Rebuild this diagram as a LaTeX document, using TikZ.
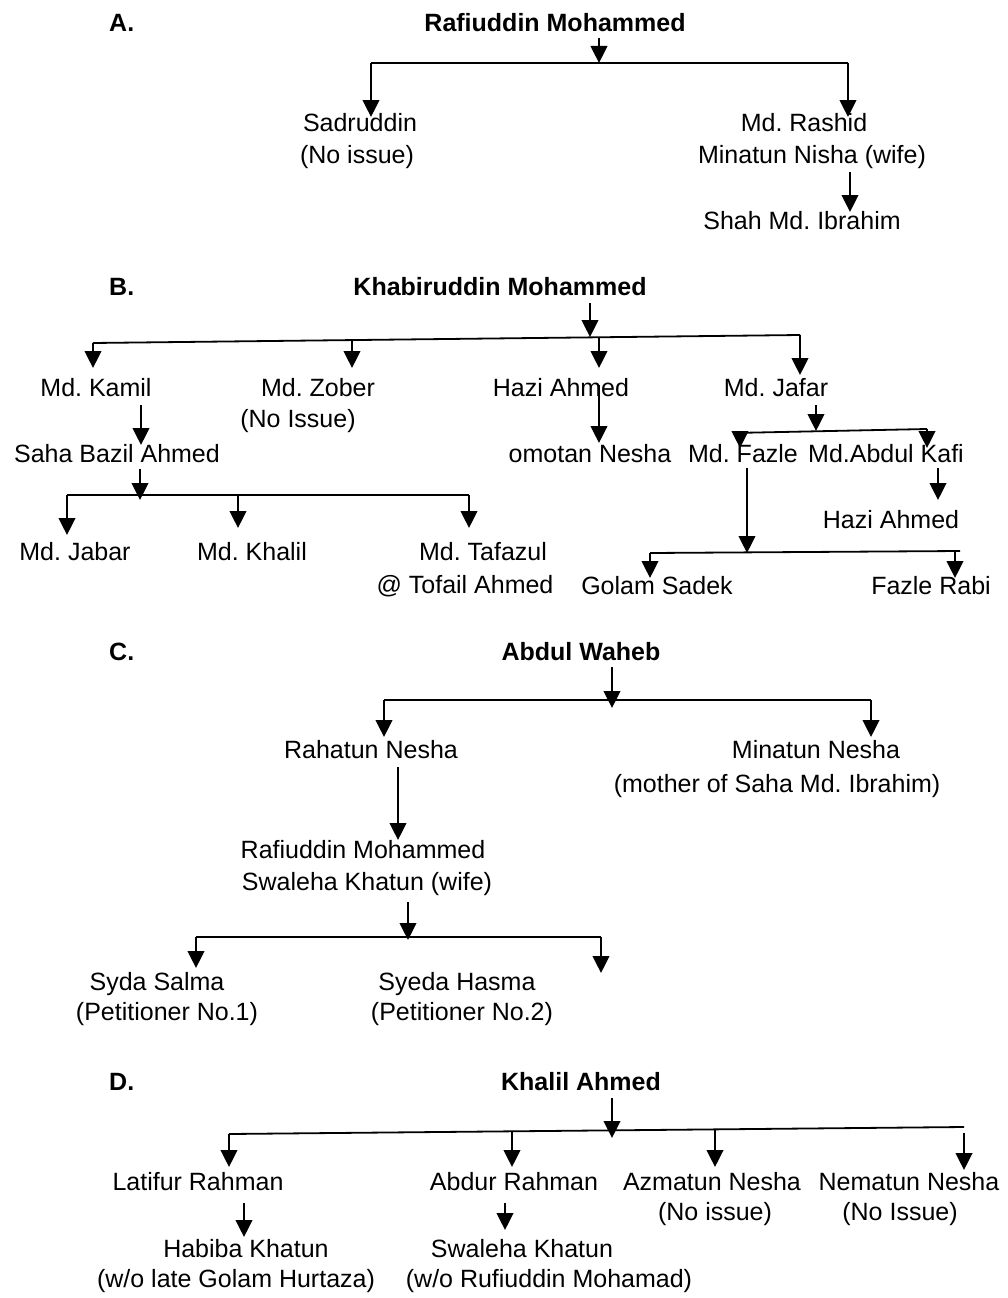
\documentclass[tikz,border=0pt]{standalone}
\usepackage{fontspec}
\setmainfont{Liberation Sans}
\usetikzlibrary{arrows.meta}
\tikzset{
  txt/.style={font=\frenchspacing\fontsize{25}{30}\selectfont, inner sep=0pt, anchor=base},
  hd/.style={font=\frenchspacing\fontsize{25}{30}\selectfont\bfseries, inner sep=0pt, anchor=base},
  arr/.style={line width=2.6pt, -{Triangle[width=16.5pt,length=17pt]}},
  brk/.style={line width=1.8pt}
}
\begin{document}
\begin{tikzpicture}[x=1pt,y=-1pt]
\useasboundingbox[fill=white] (0,0) rectangle (1007,1298);
% ---------------- A ----------------
\node[hd,anchor=base west] (lA) at (109,32) {A.};
\node[hd] (tA) at (555,32) {Rafiuddin Mohammed};
\coordinate (a0) at (599,38); \coordinate (a1) at (599,63);
\coordinate (aL) at (371,63); \coordinate (aR) at (848,63);
\coordinate (aLt) at (371,117); \coordinate (aRt) at (848,117);
\draw[brk] (aL) -- (aR);
\draw[arr] (a0) -- (a1);
\draw[arr] (aL) -- (aLt);
\draw[arr] (aR) -- (aRt);
\node[txt] (sad) at (360,131) {Sadruddin};
\node[txt] (sad2) at (357,163) {(No issue)};
\node[txt] (ras) at (804,131) {Md. Rashid};
\node[txt] (ras2) at (812,163) {Minatun Nisha (wife)};
\coordinate (a2) at (850,172); \coordinate (a3) at (850,212);
\draw[arr] (a2) -- (a3);
\node[txt] (shah) at (802,229) {Shah Md. Ibrahim};
% ---------------- B ----------------
\node[hd,anchor=base west] (lB) at (109,295) {B.};
\node[hd] (tB) at (500,295) {Khabiruddin Mohammed};
\coordinate (b0) at (590,303); \coordinate (b1) at (590,337);
\coordinate (bL) at (93,343); \coordinate (bR) at (800,335);
\draw[brk] (bL) -- (bR);
\draw[arr] (b0) -- (b1);
\coordinate (bz) at (352,340.1); \coordinate (bh) at (599,337.3);
\coordinate (bLt) at (93,368); \coordinate (bzt) at (352,368);
\coordinate (bht) at (599,368); \coordinate (bRt) at (800,375);
\draw[arr] (bL) -- (bLt);
\draw[arr] (bz) -- (bzt);
\draw[arr] (bh) -- (bht);
\draw[arr] (bR) -- (bRt);
\node[txt] (kamil) at (96,396) {Md. Kamil};
\node[txt] (zober) at (318,396) {Md. Zober};
\node[txt] (zober2) at (298,427) {(No Issue)};
\node[txt] (hazi) at (561,396) {Hazi Ahmed};
\node[txt] (jafar) at (776,396) {Md. Jafar};
% Kamil -> Saha Bazil
\coordinate (b2) at (141,405); \coordinate (b3) at (141,445);
\draw[arr] (b2) -- (b3);
\node[txt] (saha) at (117,462) {Saha Bazil Ahmed};
% Hazi -> omotan
\coordinate (b4) at (599,385); \coordinate (b5) at (599,443);
\draw[arr] (b4) -- (b5);
\node[txt] (omotan) at (590,462) {omotan Nesha};
% Jafar
\coordinate (b6) at (816,405); \coordinate (b7) at (816,431);
\coordinate (jL) at (733,433); \coordinate (jR) at (927,429);
\coordinate (jLa) at (740,432.9); \coordinate (jLt) at (740,448); \coordinate (jRt) at (927,448);
\draw[brk] (jL) -- (jR);
\draw[arr] (b6) -- (b7);
\draw[arr] (jLa) -- (jLt);
\draw[arr] (jR) -- (jRt);
\node[txt] (fazle) at (743,462) {Md. Fazle};
\node[txt] (kafi) at (886,462) {Md.Abdul Kafi};
% Fazle -> children
\coordinate (b8) at (747,468); \coordinate (b9) at (747,553);
\coordinate (fL) at (650,553); \coordinate (fR) at (960,551);
\coordinate (fRa) at (955,551); \coordinate (fLt) at (650,578); \coordinate (fRt) at (955,578);
\draw[brk] (fL) -- (fR);
\draw[arr] (b8) -- (b9);
\draw[arr] (fL) -- (fLt);
\draw[arr] (fRa) -- (fRt);
\node[txt] (golam) at (657,594) {Golam Sadek};
\node[txt] (rabi) at (931,594) {Fazle Rabi};
% Kafi -> Hazi Ahmed
\coordinate (b10) at (938,468); \coordinate (b11) at (938,500);
\draw[arr] (b10) -- (b11);
\node[txt] (hazi2) at (891,528) {Hazi Ahmed};
% Saha Bazil -> children
\coordinate (b12) at (140,469); \coordinate (b13) at (140,500);
\coordinate (sL) at (67,495); \coordinate (sR) at (469,495); \coordinate (sM) at (238,495);
\coordinate (sLt) at (67,535); \coordinate (sMt) at (238,528); \coordinate (sRt) at (469,528);
\draw[brk] (sL) -- (sR);
\draw[arr] (b12) -- (b13);
\draw[arr] (sL) -- (sLt);
\draw[arr] (sM) -- (sMt);
\draw[arr] (sR) -- (sRt);
\node[txt] (jabar) at (75,560) {Md. Jabar};
\node[txt] (khalil) at (252,560) {Md. Khalil};
\node[txt] (tafazul) at (483,560) {Md. Tafazul};
\node[txt] (tofail) at (465,593) {@ Tofail Ahmed};
% ---------------- C ----------------
\node[hd,anchor=base west] (lC) at (109,660) {C.};
\node[hd] (tC) at (581,660) {Abdul Waheb};
\coordinate (c0) at (612,667); \coordinate (c1) at (612,708);
\coordinate (cL) at (384,700); \coordinate (cR) at (871,700);
\coordinate (cLt) at (384,737); \coordinate (cRt) at (871,737);
\draw[brk] (cL) -- (cR);
\draw[arr] (c0) -- (c1);
\draw[arr] (cL) -- (cLt);
\draw[arr] (cR) -- (cRt);
\node[txt] (rahatun) at (371,758) {Rahatun Nesha};
\node[txt] (minatun) at (816,758) {Minatun Nesha};
\node[txt] (minatun2) at (777,792) {(mother of Saha Md. Ibrahim)};
\coordinate (c2) at (398,767); \coordinate (c3) at (398,840);
\draw[arr] (c2) -- (c3);
\node[txt] (rafi) at (363,858) {Rafiuddin Mohammed};
\node[txt] (rafi2) at (367,890) {Swaleha Khatun (wife)};
\coordinate (c4) at (408,902); \coordinate (c5) at (408,940);
\coordinate (pL) at (196,937); \coordinate (pR) at (601,937);
\coordinate (pLt) at (196,968); \coordinate (pRt) at (601,973);
\draw[brk] (pL) -- (pR);
\draw[arr] (c4) -- (c5);
\draw[arr] (pL) -- (pLt);
\draw[arr] (pR) -- (pRt);
\node[txt] (salma) at (157,990) {Syda Salma};
\node[txt] (salma2) at (167,1020) {(Petitioner No.1)};
\node[txt] (hasma) at (457,990) {Syeda Hasma};
\node[txt] (hasma2) at (462,1020) {(Petitioner No.2)};
% ---------------- D ----------------
\node[hd,anchor=base west] (lD) at (109,1090) {D.};
\node[hd] (tD) at (581,1090) {Khalil Ahmed};
\coordinate (d0) at (612,1098); \coordinate (d1) at (612,1138);
\coordinate (dL) at (229,1134); \coordinate (dR) at (964,1127);
\draw[brk] (dL) -- (dR);
\draw[arr] (d0) -- (d1);
\coordinate (dA) at (512,1131.3); \coordinate (dZ) at (715,1129.4); \coordinate (dN) at (964,1133);
\coordinate (dLt) at (229,1167); \coordinate (dAt) at (512,1167);
\coordinate (dZt) at (715,1167); \coordinate (dNt) at (964,1170);
\draw[arr] (dL) -- (dLt);
\draw[arr] (dA) -- (dAt);
\draw[arr] (dZ) -- (dZt);
\draw[arr] (dN) -- (dNt);
\node[txt] (latif) at (198,1190) {Latifur Rahman};
\node[txt] (abdur) at (514,1190) {Abdur Rahman};
\node[txt] (azmat) at (712,1190) {Azmatun Nesha};
\node[txt] (azmat2) at (715,1220) {(No issue)};
\node[txt] (nemat) at (909,1190) {Nematun Nesha};
\node[txt] (nemat2) at (900,1220) {(No Issue)};
\coordinate (d2) at (244,1203); \coordinate (d3) at (244,1237);
\draw[arr] (d2) -- (d3);
\node[txt] (habiba) at (246,1257) {Habiba Khatun};
\node[txt] (habiba2) at (236,1287) {(w/o late Golam Hurtaza)};
\coordinate (d4) at (505,1203); \coordinate (d5) at (505,1230);
\draw[arr] (d4) -- (d5);
\node[txt] (swal) at (522,1257) {Swaleha Khatun};
\node[txt] (swal2) at (549,1287) {(w/o Rufiuddin Mohamad)};
\end{tikzpicture}
\end{document}
